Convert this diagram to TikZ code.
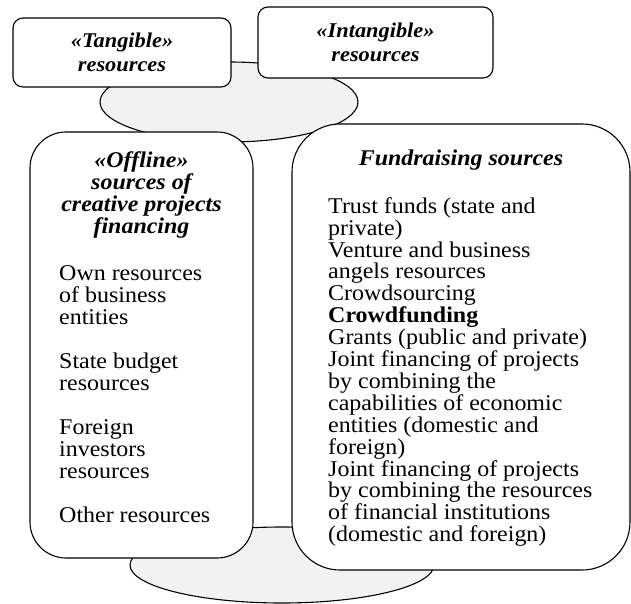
\documentclass[tikz,border=0pt]{standalone}
\usepackage{fontspec}
\setmainfont{Liberation Serif}[FakeStretch=1.065]
\usetikzlibrary{shapes.geometric}
\definecolor{pillargray}{HTML}{F2F2F2}

\begin{document}
\begin{tikzpicture}[x=1pt,y=-1pt,
pillar/.style={
% The gray column ends:
ellipse,
draw=black,
line width=1.1pt,
fill=pillargray,
inner sep=0pt
},
tagbox/.style={
rectangle,draw=black,line width=1.1pt,fill=white,
rounded corners=10pt,inner sep=0pt,align=center,
font={\fontsize{21}{24}\selectfont\bfseries\itshape}
},
sourcebox/.style={
rectangle,draw=black,line width=1.1pt,fill=white,inner sep=0pt
},
heading/.style={
inner sep=0pt,align=center,
font={\fontsize{22.5}{22}\selectfont\bfseries\itshape}
},
itemlist/.style={
inner sep=0pt,align=left,
font={\fontsize{22.5}{22}\selectfont}
}
]
\useasboundingbox (0,0) rectangle (631,604);
% Column behind the boxes:
\node[pillar,minimum width=304pt,minimum height=76pt] (base) at (282,565) {};
\node[pillar,minimum width=258pt,minimum height=80pt] (cap) at (229,102) {};
% Top row:
\node[tagbox,minimum width=218pt,minimum height=69pt] (tangible) at (122,52.5) {«Tangible»\\ resources};
\node[tagbox,minimum width=235pt,minimum height=71pt] (intangible) at (375.5,42.5) {«Intangible»\\ resources};
% Two source boxes (base anchor = last line):
\node[sourcebox,rounded corners=36pt,minimum width=223pt,minimum height=426pt] (offline) at (141.5,345) {};
\node[sourcebox,rounded corners=48pt,minimum width=338pt,minimum height=446pt] (fundraising) at (461,347) {};
\node[heading,anchor=base] (offline title) at (141.5,233) {«Offline»\\ sources of\\ creative projects\\ financing};
\node[itemlist,anchor=base west] (offline list) at (59,522) {Own resources\\ of business\\ entities\\[22pt] State budget\\ resources\\[22pt] Foreign\\ investors\\ resources\\[22pt] Other resources};
\node[heading,anchor=base] (fundraising title) at (461,165) {Fundraising sources};
\node[itemlist,anchor=base west,font={\fontsize{22.5}{21.9}\selectfont}] (fundraising list) at (328,541.7) {Trust funds (state and\\ private)\\ Venture and business\\ angels resources\\ Crowdsourcing\\ \textbf{Crowdfunding}\\ Grants (public and private)\\ Joint financing of projects\\ by combining the\\ capabilities of economic\\ entities (domestic and\\ foreign)\\ Joint financing of projects\\ by combining the resources\\ of financial institutions\\ (domestic and foreign)};
\end{tikzpicture}
\end{document}
